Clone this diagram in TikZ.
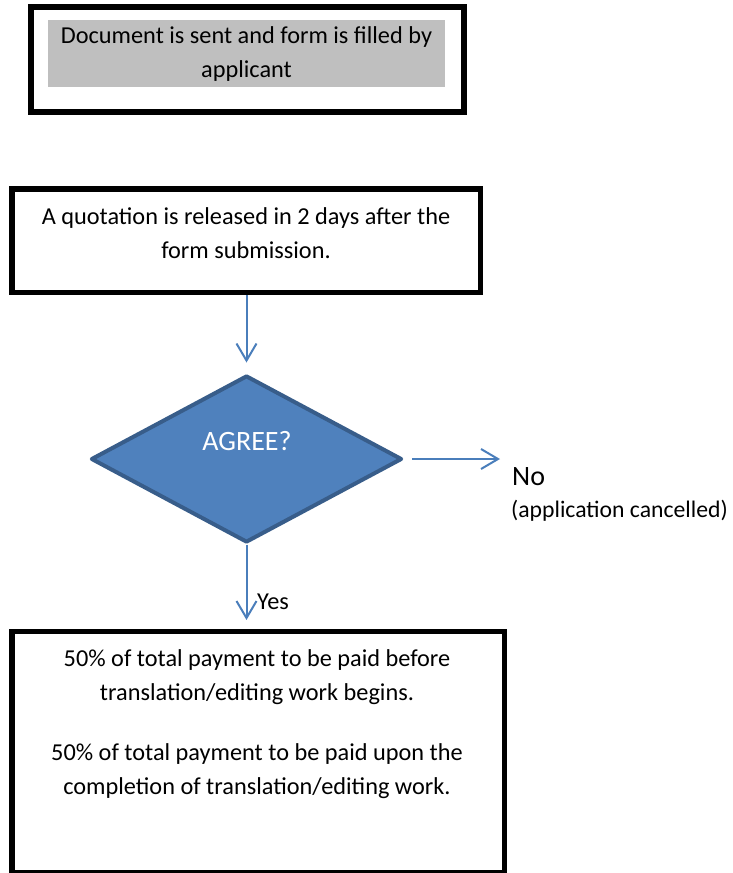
\documentclass[tikz,border=0pt]{standalone}
\usepackage{fontspec}
\setmainfont{Carlito}
\usetikzlibrary{shapes.geometric,arrows.meta}
\definecolor{dfill}{HTML}{4F81BD}
\definecolor{dline}{HTML}{385D8A}
\definecolor{arrc}{HTML}{4A7EBB}
\definecolor{grayfill}{HTML}{BFBFBF}
\tikzset{
  boxnode/.style={draw=black, line width=5.5pt, inner sep=0pt, rectangle},
  txt/.style={font=\fontsize{24.3}{34}\selectfont, align=center, inner sep=0pt, anchor=base},
  lbl/.style={font=\fontsize{24.3}{34}\selectfont, inner sep=0pt, anchor=base west},
  arr/.style={draw=arrc, line width=2pt, -{Straight Barb[length=17pt,width=20pt,line width=2pt]}},
}
\begin{document}
\begin{tikzpicture}[x=1pt,y=-1pt]
\useasboundingbox (0,0) rectangle (733,873);
\fill[white] (0,0) rectangle (733,873);
% box 1
\node[boxnode, line width=6pt, minimum width=433pt, minimum height=105pt] (b1) at (247.5,59.5) {};
\node[fill=grayfill, minimum width=397pt, minimum height=67pt, inner sep=0pt] (g1) at (246.5,53.3) {};
\node[txt] (t1) at (246.5,77.3) {Document is sent and form is filled by\\applicant};
% box 2
\node[boxnode, minimum width=468.5pt, minimum height=103.5pt] (b2) at (246.3,240.8) {};
\node[txt] (t2) at (246,258.3) {A quotation is released in 2 days after the\\form submission.};
% decision
\node[diamond, draw=dline, fill=dfill, line width=4pt, line join=round, minimum width=311pt, minimum height=167pt, inner sep=0pt] (dec) at (246.5,459) {};
\node[font=\fontsize{28}{34}\selectfont, text=white, anchor=base, inner sep=0pt] (q) at (247,450) {AGREE?};
% box 3
\node[boxnode, minimum width=492.5pt, minimum height=240.75pt] (b3) at (258,752.1) {};
\node[txt] (t3) at (257,794) {50\% of total payment to be paid before\\translation/editing work begins.\\[25.4pt]50\% of total payment to be paid upon the\\completion of translation/editing work.};
% connectors
\coordinate (noend) at (500,459);
\draw[arr, shorten >=11pt] (b2.south -| dec.north) -- (dec.north);
\draw[arr, shorten <=8pt] (dec.east) -- (noend);
\draw[arr, shorten >=9pt] (dec.south) -- (dec.south |- b3.north);
% labels
\node[lbl] (yes) at (257,609) {Yes};
\node[lbl, font=\fontsize{28}{34}\selectfont] (no) at (512,485) {No};
\node[lbl, font=\fontsize{23.7}{34}\selectfont] (cancel) at (511,517) {(application cancelled)};
\end{tikzpicture}
\end{document}
